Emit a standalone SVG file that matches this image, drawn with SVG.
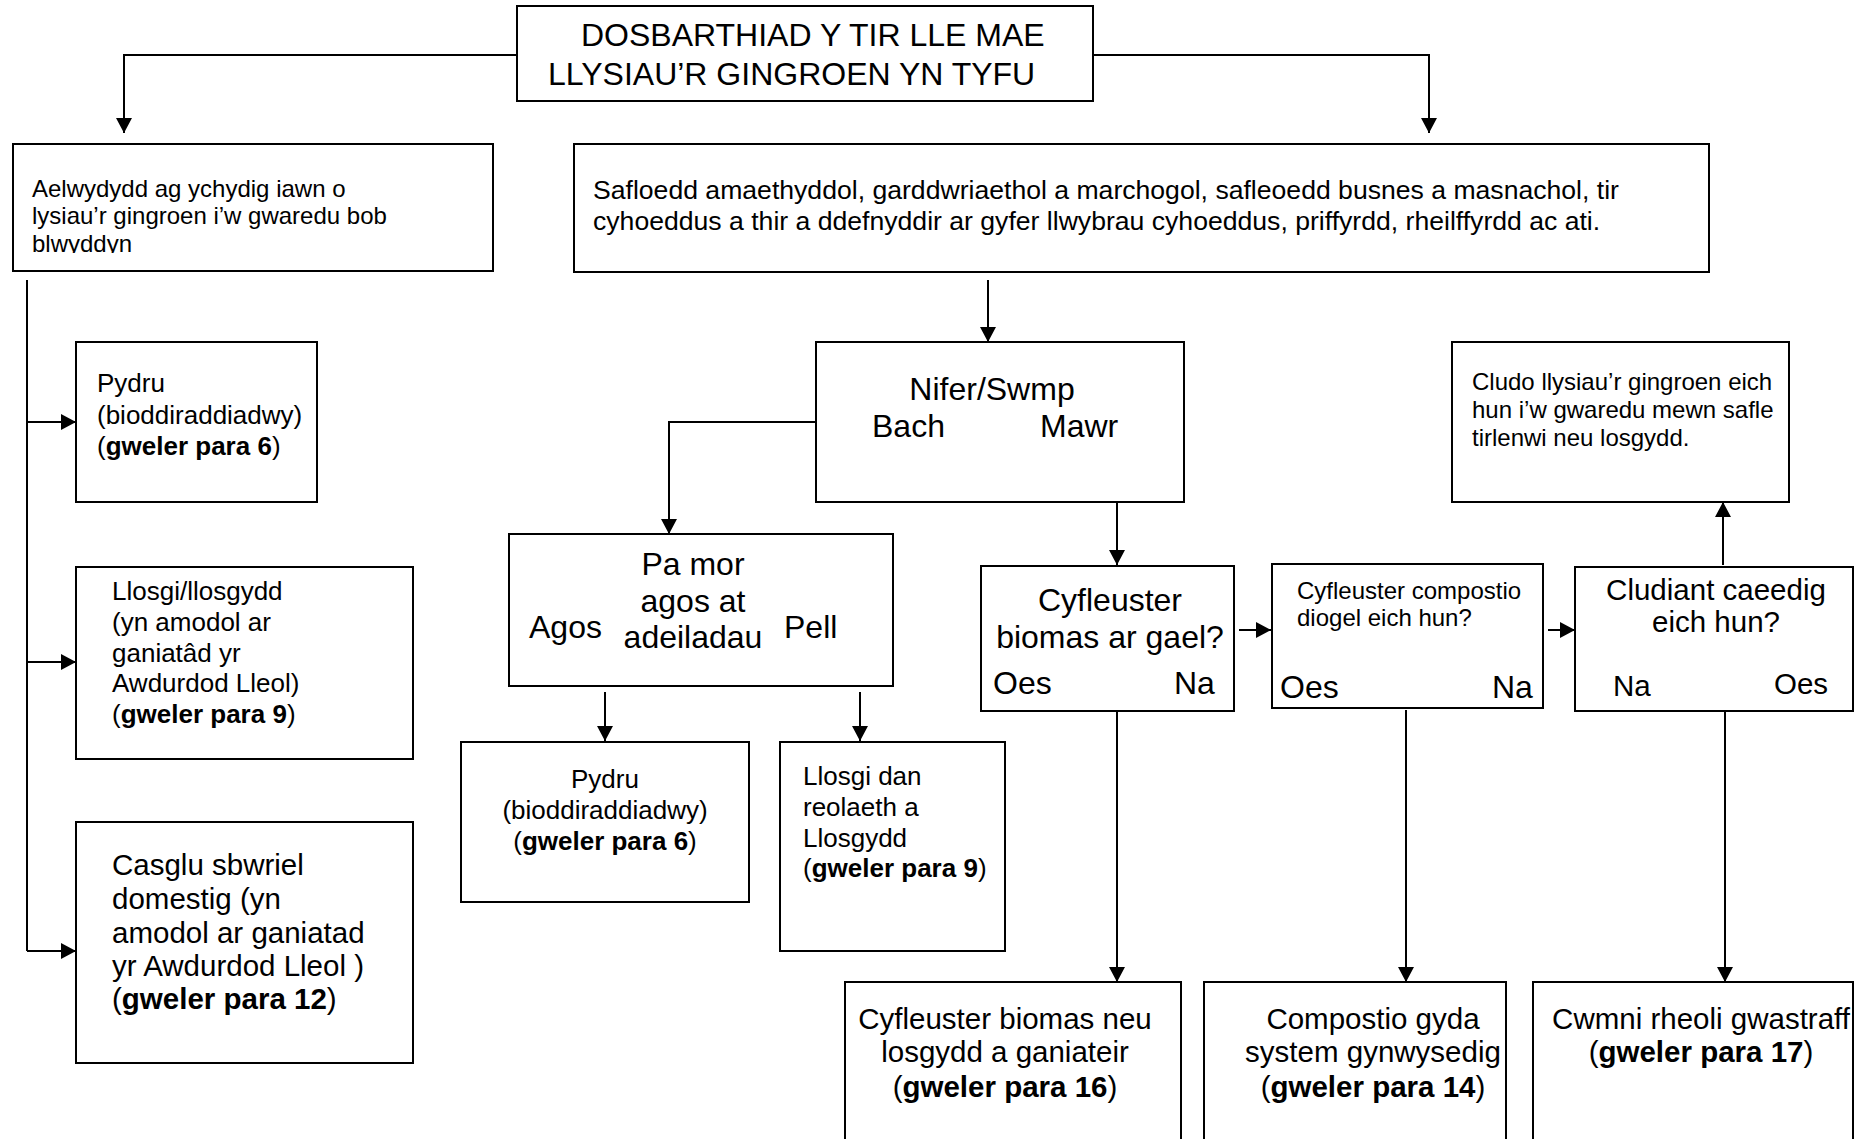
<svg xmlns="http://www.w3.org/2000/svg" width="1871" height="1139" viewBox="0 0 1871 1139">
<defs>
<style>
.box{fill:#fff;stroke:#000;stroke-width:2}
.ln{fill:none;stroke:#000;stroke-width:2}
.ar{fill:none;stroke:#000;stroke-width:2;marker-end:url(#ah)}
text{font-family:"Liberation Sans",Arial,sans-serif;fill:#000}
.t24{font-size:24px}
.t26{font-size:26px}
.t265{font-size:26.6px}
.t29{font-size:29.5px}
.t32{font-size:32px}
.b{font-weight:bold}
.m{text-anchor:middle}
</style>
<marker id="ah" markerUnits="userSpaceOnUse" viewBox="0 0 15 16" markerWidth="15" markerHeight="16" refX="15" refY="8" orient="auto">
<path d="M0,0 L15,8 L0,16 z" fill="#000"/>
</marker>
<clipPath id="clipA"><rect x="13" y="144" width="480" height="109"/></clipPath>
</defs>
<rect width="1871" height="1139" fill="#fff"/>

<g id="connectors">
<path class="ar" d="M517,55 H124 V133"/>
<path class="ar" d="M1093,55 H1429 V133"/>
<path class="ar" d="M988,280 V342"/>
<path class="ln" d="M27,280 V951"/>
<path class="ar" d="M27,422 H76"/>
<path class="ar" d="M27,662 H76"/>
<path class="ar" d="M27,951 H76"/>
<path class="ar" d="M816,422 H669 V534"/>
<path class="ar" d="M1117,502 V565"/>
<path class="ar" d="M605,692 V741"/>
<path class="ar" d="M860,692 V741"/>
<path class="ar" d="M1239,630 H1271"/>
<path class="ar" d="M1548,630 H1575"/>
<path class="ar" d="M1723,565 V502"/>
<path class="ar" d="M1117,711 V982"/>
<path class="ar" d="M1406,710 V982"/>
<path class="ar" d="M1725,711 V982"/>
</g>

<g id="title">
<rect class="box" x="517" y="6" width="576" height="95"/>
<text class="t32" x="581" y="46">DOSBARTHIAD Y TIR LLE MAE</text>
<text class="t32" x="548" y="85">LLYSIAU’R GINGROEN YN TYFU</text>
</g>

<g id="aelwydydd">
<rect class="box" x="13" y="144" width="480" height="127"/>
<g clip-path="url(#clipA)">
<text class="t24" x="32" y="197">Aelwydydd ag ychydig iawn o</text>
<text class="t24" x="32" y="224">lysiau’r gingroen i’w gwaredu bob</text>
<text class="t24" x="32" y="252">blwyddyn</text>
</g>
</g>

<g id="safloedd">
<rect class="box" x="574" y="144" width="1135" height="128"/>
<text class="t265" x="593" y="199">Safloedd amaethyddol, garddwriaethol a marchogol, safleoedd busnes a masnachol, tir</text>
<text class="t265" x="593" y="230">cyhoeddus a thir a ddefnyddir ar gyfer llwybrau cyhoeddus, priffyrdd, rheilffyrdd ac ati.</text>
</g>

<g id="pydru1">
<rect class="box" x="76" y="342" width="241" height="160"/>
<text class="t26" x="97" y="392">Pydru</text>
<text class="t26" x="97" y="424">(bioddiraddiadwy)</text>
<text class="t26" x="97" y="455">(<tspan class="b">gweler para 6</tspan>)</text>
</g>

<g id="llosgi1">
<rect class="box" x="76" y="567" width="337" height="192"/>
<text class="t26" x="112" y="600">Llosgi/llosgydd</text>
<text class="t26" x="112" y="631">(yn amodol ar</text>
<text class="t26" x="112" y="662">ganiatâd yr</text>
<text class="t26" x="112" y="692">Awdurdod Lleol)</text>
<text class="t26" x="112" y="723">(<tspan class="b">gweler para 9</tspan>)</text>
</g>

<g id="casglu">
<rect class="box" x="76" y="822" width="337" height="241"/>
<text class="t29" x="112" y="875">Casglu sbwriel</text>
<text class="t29" x="112" y="909">domestig (yn</text>
<text class="t29" x="112" y="943">amodol ar ganiatad</text>
<text class="t29" x="112" y="976">yr Awdurdod Lleol )</text>
<text class="t29" x="112" y="1009">(<tspan class="b">gweler para 12</tspan>)</text>
</g>

<g id="nifer">
<rect class="box" x="816" y="342" width="368" height="160"/>
<text class="t32 m" x="992" y="400">Nifer/Swmp</text>
<text class="t32" x="872" y="437">Bach</text>
<text class="t32" x="1040" y="437">Mawr</text>
</g>

<g id="pamor">
<rect class="box" x="509" y="534" width="384" height="152"/>
<text class="t32 m" x="693" y="575">Pa mor</text>
<text class="t32 m" x="693" y="612">agos at</text>
<text class="t32 m" x="693" y="648">adeiladau</text>
<text class="t32" x="529" y="638">Agos</text>
<text class="t32" x="784" y="638">Pell</text>
</g>

<g id="pydru2">
<rect class="box" x="461" y="742" width="288" height="160"/>
<text class="t26 m" x="605" y="788">Pydru</text>
<text class="t26 m" x="605" y="819">(bioddiraddiadwy)</text>
<text class="t26 m" x="605" y="850">(<tspan class="b">gweler para 6</tspan>)</text>
</g>

<g id="llosgi2">
<rect class="box" x="780" y="742" width="225" height="209"/>
<text class="t26" x="803" y="785">Llosgi dan</text>
<text class="t26" x="803" y="816">reolaeth a</text>
<text class="t26" x="803" y="847">Llosgydd</text>
<text class="t26" x="803" y="877">(<tspan class="b">gweler para 9</tspan>)</text>
</g>

<g id="biomas">
<rect class="box" x="981" y="566" width="253" height="145"/>
<text class="t32 m" x="1110" y="611">Cyfleuster</text>
<text class="t32 m" x="1110" y="648">biomas ar gael?</text>
<text class="t32" x="993" y="694">Oes</text>
<text class="t32" x="1174" y="694">Na</text>
</g>

<g id="compostio">
<rect class="box" x="1272" y="564" width="271" height="144"/>
<text class="t24" x="1297" y="599">Cyfleuster compostio</text>
<text class="t24" x="1297" y="626">diogel eich hun?</text>
<text class="t32" x="1280" y="698">Oes</text>
<text class="t32" x="1492" y="698">Na</text>
</g>

<g id="cludiant">
<rect class="box" x="1575" y="567" width="278" height="144"/>
<text class="t29 m" x="1716" y="600">Cludiant caeedig</text>
<text class="t29 m" x="1716" y="632">eich hun?</text>
<text class="t29" x="1613" y="696">Na</text>
<text class="t29" x="1774" y="694">Oes</text>
</g>

<g id="cludo">
<rect class="box" x="1452" y="342" width="337" height="160"/>
<text class="t24" x="1472" y="390">Cludo llysiau’r gingroen eich</text>
<text class="t24" x="1472" y="418">hun i’w gwaredu mewn safle</text>
<text class="t24" x="1472" y="446">tirlenwi neu losgydd.</text>
</g>

<g id="biomasneu">
<rect class="box" x="845" y="982" width="336" height="170"/>
<text class="t29 m" x="1005" y="1029">Cyfleuster biomas neu</text>
<text class="t29 m" x="1005" y="1062">losgydd a ganiateir</text>
<text class="t29 m" x="1005" y="1097">(<tspan class="b">gweler para 16</tspan>)</text>
</g>

<g id="compostiogyda">
<rect class="box" x="1204" y="982" width="302" height="170"/>
<text class="t29 m" x="1373" y="1029">Compostio gyda</text>
<text class="t29 m" x="1373" y="1062">system gynwysedig</text>
<text class="t29 m" x="1373" y="1097">(<tspan class="b">gweler para 14</tspan>)</text>
</g>

<g id="cwmni">
<rect class="box" x="1533" y="982" width="320" height="170"/>
<text class="t29 m" x="1701" y="1029">Cwmni rheoli gwastraff</text>
<text class="t29 m" x="1701" y="1062">(<tspan class="b">gweler para 17</tspan>)</text>
</g>
</svg>
